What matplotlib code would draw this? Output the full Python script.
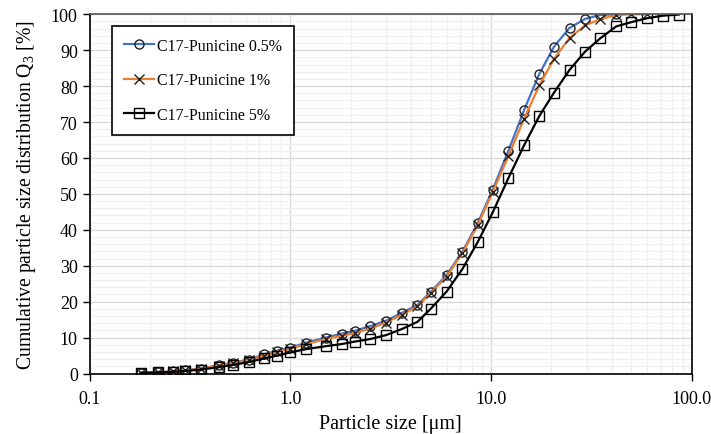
import numpy as np
import matplotlib
matplotlib.use('Agg')
import matplotlib.pyplot as plt
from matplotlib.ticker import FixedLocator, FuncFormatter, NullFormatter

plt.rcParams['font.family'] = ['Liberation Serif', 'DejaVu Serif']
plt.rcParams['mathtext.fontset'] = 'custom'
plt.rcParams['mathtext.rm'] = 'Liberation Serif'

# particle size classes [um]
sizes = [0.18, 0.22, 0.26, 0.30, 0.36, 0.44, 0.52, 0.62, 0.74, 0.86,
         1.0, 1.2, 1.5, 1.8, 2.1, 2.5, 3.0, 3.6, 4.3, 5.0,
         6.0, 7.2, 8.6, 10.2, 12.2, 14.6, 17.4, 20.6, 24.6, 29.4,
         35, 42, 50, 60, 72, 86]

# cumulative Q3 [%]
q3_05 = [0.2, 0.3, 0.6, 0.9, 1.4, 2.3, 3.0, 3.9, 5.3, 6.4,
         7.2, 8.6, 10.0, 11.1, 11.9, 13.2, 14.7, 16.9, 19.1, 22.7,
         27.4, 33.9, 42.0, 51.2, 62.0, 73.3, 83.4, 91.0, 96.2, 98.7,
         99.8, 100.0]
q3_1 = [0.2, 0.3, 0.6, 0.9, 1.3, 2.2, 2.9, 3.7, 5.0, 6.1,
        6.9, 8.2, 9.6, 10.5, 11.3, 12.5, 14.2, 16.4, 18.7, 22.4,
        27.0, 33.5, 41.4, 50.6, 60.5, 70.9, 80.2, 87.6, 93.4, 96.9,
        98.6, 99.8, 100.0, 100.0]
q3_5 = [0.2, 0.3, 0.5, 0.7, 1.1, 1.8, 2.4, 3.2, 4.2, 5.0,
        5.9, 6.8, 7.6, 8.2, 8.9, 9.6, 10.7, 12.4, 14.4, 18.0,
        22.8, 29.1, 36.7, 44.9, 54.4, 63.5, 71.7, 78.2, 84.5, 89.6,
        93.3, 96.6, 97.8, 98.9, 99.6, 99.9]

labels = ['C17-Punicine 0.5%', 'C17-Punicine 1%', 'C17-Punicine 5%']

fig = plt.figure(figsize=(7.11, 4.35), dpi=100)
ax = fig.add_axes([0.126, 0.139, 0.847, 0.826])

ax.plot(sizes[:len(q3_05)], q3_05, color='#4472C4', lw=1.6, marker='o',
        ms=6.5, mfc='none', mec='#222222', mew=1.0, label=labels[0])
ax.plot(sizes[:len(q3_1)], q3_1, color='#ED7D31', lw=1.6, marker='x',
        ms=6.5, mec='#222222', mew=1.0, label=labels[1])
ax.plot(sizes[:len(q3_5)], q3_5, color='black', lw=1.6, marker='s',
        ms=6.5, mfc='none', mec='black', mew=1.0, label=labels[2])

ax.set_xscale('log')
ax.set_xlim(0.1, 100)
ax.set_ylim(0, 100)
ax.xaxis.set_major_locator(FixedLocator([0.1, 1, 10, 100]))
ax.xaxis.set_major_formatter(FuncFormatter(lambda v, p: f'{v:.1f}'))
ax.xaxis.set_minor_locator(FixedLocator(
    [m * 10.0 ** e for e in (-1, 0, 1) for m in range(2, 10)]))
ax.xaxis.set_minor_formatter(NullFormatter())
ax.set_yticks(range(0, 101, 10))
ax.yaxis.set_minor_locator(FixedLocator(range(2, 100, 2)))

ax.grid(which='major', color='#d9d9d9', lw=1.0)
ax.grid(which='minor', color='#f0f0f0', lw=1.0)
ax.set_axisbelow(True)

ax.tick_params(which='major', direction='out', length=5, width=1, labelsize=13, color='black')
ax.tick_params(axis='x', which='major', pad=7)
ax.tick_params(which='minor', length=0)
for s in ax.spines.values():
    s.set_color('black')
    s.set_linewidth(1.2)
ax.spines['top'].set_color('#555555')

ax.set_xlabel('Particle size [μm]', fontsize=14.5, labelpad=5)
ax.set_ylabel('Cumulative particle size distribution Q$_3$ [%]', fontsize=14.2, labelpad=9)

leg = ax.legend(loc='upper left', bbox_to_anchor=(0.037, 0.967), borderaxespad=0,
                fontsize=11.5, frameon=True, fancybox=False, edgecolor='black',
                framealpha=1, handlelength=1.9, labelspacing=1.15, borderpad=0.75,
                handletextpad=0.15)
leg.get_frame().set_linewidth(1.2)

fig.savefig('out.png', dpi=100)
